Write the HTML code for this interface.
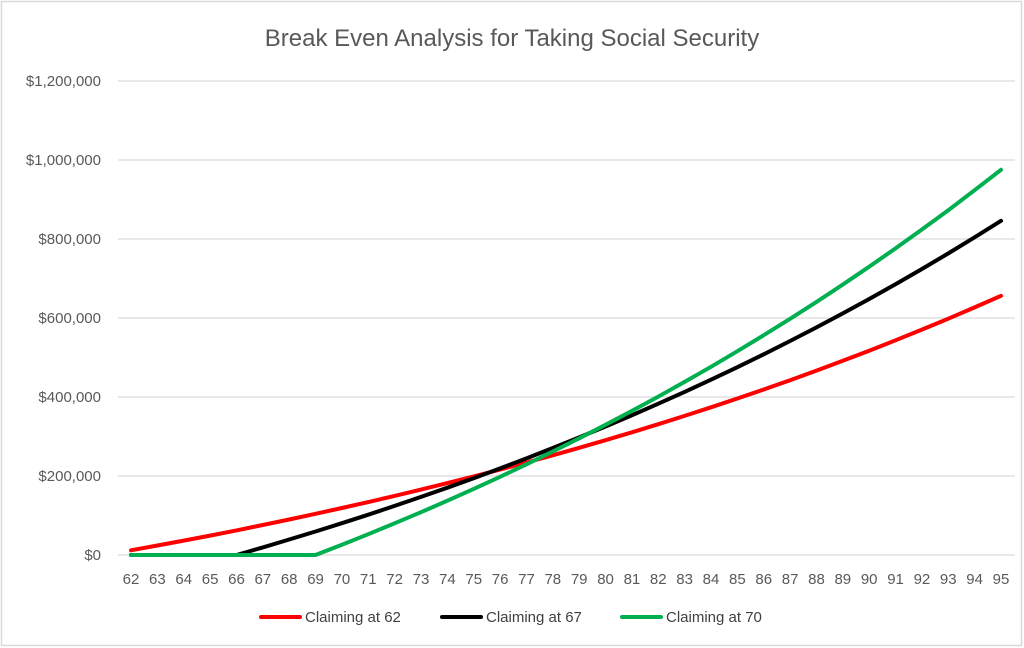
<!DOCTYPE html>
<html><head><meta charset="utf-8"><style>
body{margin:0;background:#fff;}
svg{display:block;font-family:"Liberation Sans",Arial,sans-serif;}
</style></head><body>
<svg id="s" width="1024" height="648" viewBox="0 0 1024 648">
<rect x="1.5" y="1.5" width="1020" height="644" fill="#fff" stroke="#d9d9d9" stroke-width="1.5"/>
<text x="512" y="46" text-anchor="middle" font-size="24" fill="#595959">Break Even Analysis for Taking Social Security</text>
<g id="grid" stroke="#d9d9d9" stroke-width="1.3"></g>
<g id="yl" font-size="15" fill="#595959" text-anchor="end"></g>
<g id="xl" font-size="15" fill="#595959" text-anchor="middle"></g>
<g id="lines" fill="none" stroke-width="4" stroke-linejoin="round" stroke-linecap="round"></g>
<g font-size="15" fill="#404040">
<line x1="261" y1="617" x2="300" y2="617" stroke="#ff0000" stroke-width="4" stroke-linecap="round"/>
<text x="305" y="622">Claiming at 62</text>
<line x1="442" y1="617" x2="481" y2="617" stroke="#000" stroke-width="4" stroke-linecap="round"/>
<text x="486" y="622">Claiming at 67</text>
<line x1="622" y1="617" x2="661" y2="617" stroke="#00b050" stroke-width="4" stroke-linecap="round"/>
<text x="666" y="622">Claiming at 70</text>
</g>
</svg>
<script>
var ns="http://www.w3.org/2000/svg";
function el(p,t,a,txt){var e=document.createElementNS(ns,t);for(var k in a)e.setAttribute(k,a[k]);if(txt)e.textContent=txt;document.getElementById(p).appendChild(e);}
var y0=555,ppu=79/200000,x0=131,dx=(1001-131)/33;
var labs=["$0","$200,000","$400,000","$600,000","$800,000","$1,000,000","$1,200,000"];
for(var i=0;i<7;i++){var y=y0-79*i;el("grid","line",{x1:118,x2:1015,y1:y,y2:y});el("yl","text",{x:101,y:y+5},labs[i]);}
for(var a=62;a<=95;a++){el("xl","text",{x:x0+(a-62)*dx,y:584},String(a));}
function series(start,b,g,col){var pts=[],c=0;for(var a=62;a<=95;a++){if(a>=start){c+=b*Math.pow(1+g,a-start);}pts.push((x0+(a-62)*dx).toFixed(1)+","+(y0-c*ppu).toFixed(1));}
el("lines","polyline",{points:pts.join(" "),stroke:col});}
series(62,11800,0.028,"#ff0000");
series(67,19300,0.028,"#000000");
series(70,26000,0.028,"#00b050");
</script>
</body></html>
